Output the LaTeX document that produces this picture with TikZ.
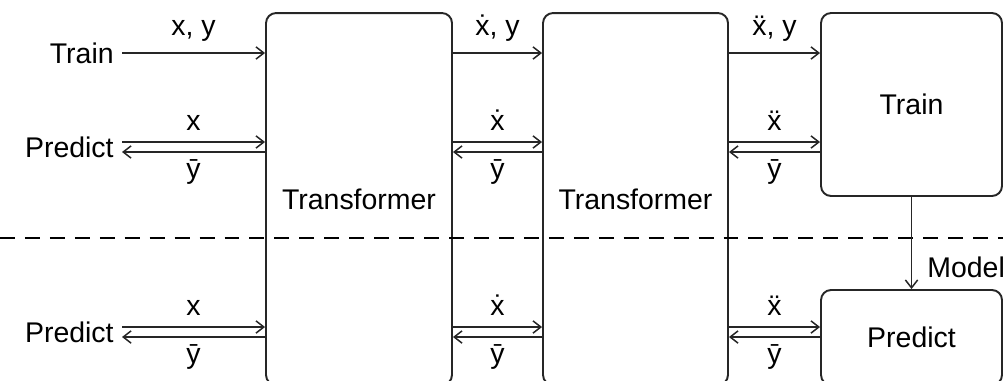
\documentclass[tikz,border=0pt]{standalone}
\usepackage{fontspec}
\setmainfont{Liberation Sans}
\usetikzlibrary{arrows.meta,calc}
\begin{document}
\begin{tikzpicture}[x=0.02cm,y=-0.02cm,
  font=\fontsize{16.2}{19}\selectfont,
  box/.style={draw=black!85, line width=1.1pt, rounded corners=5.7pt, inner sep=0pt},
  flow/.style={-{Straight Barb[length=4.5pt,width=7pt]}, line width=0.85pt, draw=black!85},
  txt/.style={inner sep=0pt},
  up/.style={midway, anchor=base, yshift=#1},
]
\useasboundingbox (0,0) rectangle (1003,380);
\clip (0,0) rectangle (1003,380);

% boxes
\node[box, minimum width=3.72cm, minimum height=7.44cm] (t1) at (359,199) {Transformer};
\node[box, minimum width=3.70cm, minimum height=7.44cm] (t2) at (635.5,199) {Transformer};
\node[box, minimum width=3.62cm, minimum height=3.66cm] (tr) at (911.5,104.5) {Train};
\node[box, minimum width=3.62cm, minimum height=1.90cm] (pr) at (911.5,337.5) {Predict};

% left texts
\node[txt, anchor=east] (lt) at (114,53) {Train};
\node[txt, anchor=east] (lp) at (114,147) {Predict};
\node[txt, anchor=east] (lq) at (114,332) {Predict};

% dashed separator
\coordinate (dl) at (0,238);
\coordinate (dr) at (1003,238);
\draw[line width=0.9pt, dash pattern=on 8.5pt off 5.7pt] (dl) -- (dr);

% train row
\draw[flow] ($(lt.east)+(8,0)$) -- (lt.east -| t1.west) node[up=0.36cm] {x, y};
\draw[flow] (lt.east -| t1.east) -- (lt.east -| t2.west) node[up=0.36cm] {ẋ, y};
\draw[flow] (lt.east -| t2.east) -- (lt.east -| tr.west) node[up=0.36cm] {ẍ, y};

% predict row (upper)
\draw[flow] ($(lp.east)+(8,-5)$) -- ($(lp.east -| t1.west)+(0,-5)$) node[up=0.24cm] {x};
\draw[flow] ($(lp.east -| t1.west)+(0,5)$) -- ($(lp.east)+(8,5)$) node[up=-0.52cm] {ȳ};
\draw[flow] ($(lp.east -| t1.east)+(0,-5)$) -- ($(lp.east -| t2.west)+(0,-5)$) node[up=0.24cm] {ẋ};
\draw[flow] ($(lp.east -| t2.west)+(0,5)$) -- ($(lp.east -| t1.east)+(0,5)$) node[up=-0.52cm] {ȳ};
\draw[flow] ($(lp.east -| t2.east)+(0,-5)$) -- ($(lp.east -| tr.west)+(0,-5)$) node[up=0.24cm] {ẍ};
\draw[flow] ($(lp.east -| tr.west)+(0,5)$) -- ($(lp.east -| t2.east)+(0,5)$) node[up=-0.52cm] {ȳ};

% predict row (lower)
\draw[flow] ($(lq.east)+(8,-5)$) -- ($(lq.east -| t1.west)+(0,-5)$) node[up=0.24cm] {x};
\draw[flow] ($(lq.east -| t1.west)+(0,5)$) -- ($(lq.east)+(8,5)$) node[up=-0.52cm] {ȳ};
\draw[flow] ($(lq.east -| t1.east)+(0,-5)$) -- ($(lq.east -| t2.west)+(0,-5)$) node[up=0.24cm] {ẋ};
\draw[flow] ($(lq.east -| t2.west)+(0,5)$) -- ($(lq.east -| t1.east)+(0,5)$) node[up=-0.52cm] {ȳ};
\draw[flow] ($(lq.east -| t2.east)+(0,-5)$) -- ($(lq.east -| pr.west)+(0,-5)$) node[up=0.24cm] {ẍ};
\draw[flow] ($(lq.east -| pr.west)+(0,5)$) -- ($(lq.east -| t2.east)+(0,5)$) node[up=-0.52cm] {ȳ};

% model
\draw[flow] (tr.south) -- (pr.north);
\node[txt, anchor=west] (ml) at (927,267) {Model};
\end{tikzpicture}
\end{document}
